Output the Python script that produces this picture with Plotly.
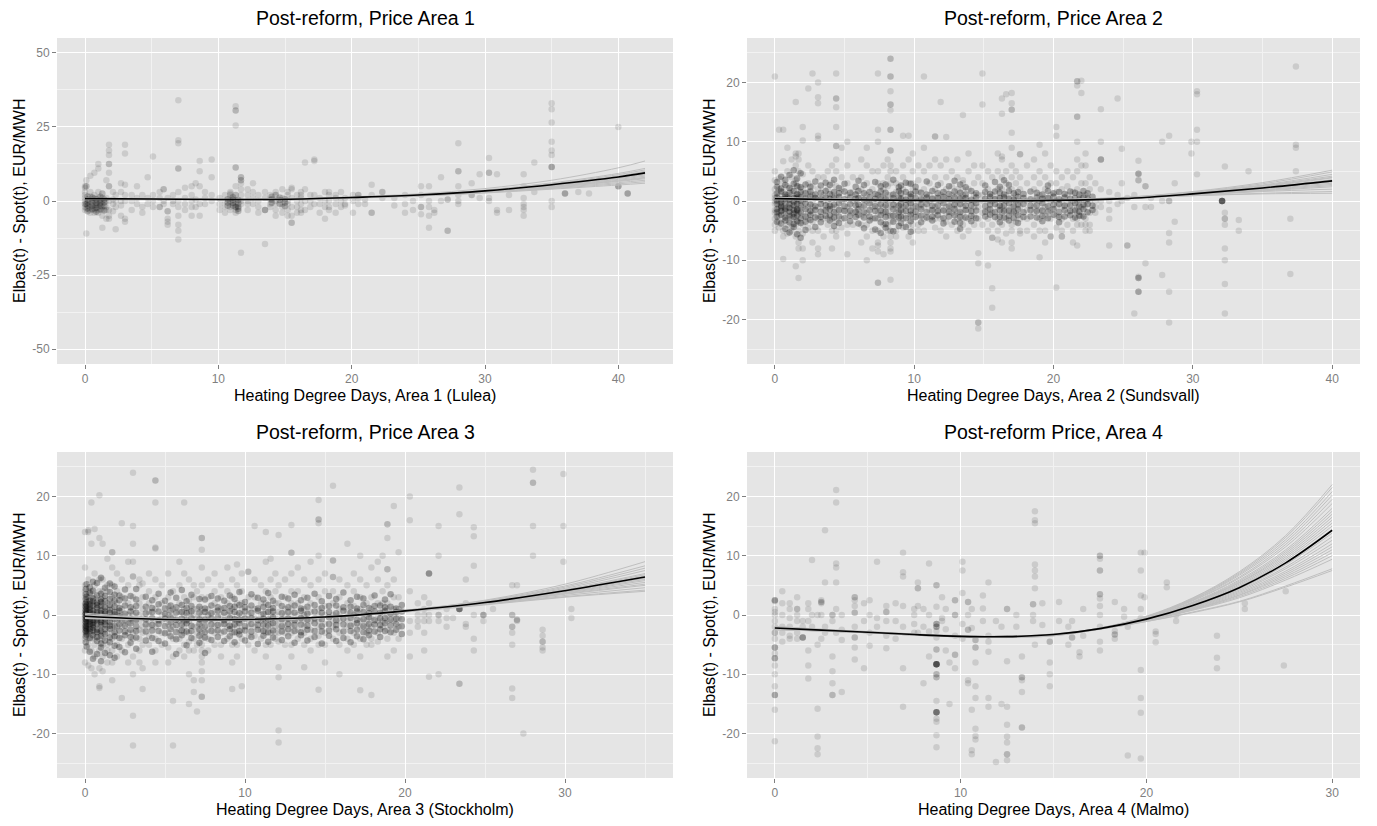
import plotly.graph_objects as go

FONT = "Liberation Sans, Arial, Helvetica, sans-serif"

# ---------------- text ----------------
panel_titles = ["Post-reform, Price Area 1", "Post-reform, Price Area 2",
                "Post-reform, Price Area 3", "Post-reform Price, Area 4"]
x_titles = ["Heating Degree Days, Area 1 (Lulea)", "Heating Degree Days, Area 2 (Sundsvall)",
            "Heating Degree Days, Area 3 (Stockholm)", "Heating Degree Days, Area 4 (Malmo)"]
y_title = "Elbas(t) - Spot(t), EUR/MWH"

x_tick_vals = [[0, 10, 20, 30, 40], [0, 10, 20, 30, 40], [0, 10, 20, 30], [0, 10, 20, 30]]
y_tick_vals = [[-50, -25, 0, 25, 50], [-20, -10, 0, 10, 20], [-20, -10, 0, 10, 20], [-20, -10, 0, 10, 20]]

# ---------------- observations: HDD of the day -> hourly Elbas-Spot differences ----------------
p1_days = {
    0.0: [5, 4.5, 2, 1, 0, -1, -1, -2, -3, 3], 0.1: [5, 5, -1, -1, -11, 7, -2.5],
    0.4: [3, 1.5, 0, -1, -2, -3, -4, 8.5], 0.7: [2, 1, 0, -1.5, -2.5, -4, 9.5, -3],
    1.0: [3, 1, 0, -1, -2, -3, -4, 12.5, 11], 1.3: [2.5, 2.5, 1, 0, -1, -2, -3, -5, -9],
    1.6: [1, 0, -2, -3, -6, 7], 1.8: [19, 17, 15.5, 12.5, 12.5, 9.5, 5, 5, 0, -3, -6, -5],
    2.1: [3, 0.5, -1, -3.5], 2.3: [2, 0, -2, -9.5], 2.7: [6, 3, 0, -1.5, -5],
    3.0: [19, 16, 5.5, 2, 0, -6, -7], 3.5: [2, 0, -3], 3.9: [1, -1, 5], 4.3: [2, -2, -4],
    4.7: [8, 1, -1], 5.1: [15, 2, 0, -2], 5.6: [3, -2, -2, 1], 5.9: [4, 4, 0, -1],
    6.2: [1, -3.5, -3.5, -6, -7, -8], 6.6: [2, 0, -1],
    7.0: [34, 20.5, 19.5, 11, 11, 3, 0, -2, -5, -8, -10, -13], 7.5: [1, -1, -3, 4.5],
    8.0: [5, 2, 0, -2, -5], 8.3: [0.5, -2, 6], 8.6: [13.5, 10, 5, -1, -5], 9.0: [3, 1, -1],
    9.5: [14, 8, 2, 0], 10.1: [1, -1, -3], 10.5: [2, 0, -2, -4], 10.9: [3, 2.5, 2, 1, 0, -1, -2, -3],
    11.3: [32, 30.5, 30.5, 25.5, 11.3, 11.3, 5, 2, 2, 0, -1, -2, -2, -2, -3, -4],
    11.7: [8, 8, 7, 7, 6, 4, 2, 0, -1, -17.5], 12.2: [4, 2, 0, -1, -3], 12.6: [6, 3, 1, -1],
    13.0: [2, 0, -2, -4], 13.5: [3, 1, -3, -3, -3, -14.5], 13.9: [2, 0.5, -1, -2],
    14.3: [3, 2, 2, 0, -1, -3, -5], 14.8: [4, 1, -1, -2, -4], 15.2: [3, 2, 0, -1, -3, -5],
    15.5: [4.5, 4, 1, -2, -5, -7.3, -7.3], 15.9: [2, 0, -2, -4], 16.2: [3, 2, 1, -1, -3, -4],
    16.5: [13, 4, 0, -3], 16.9: [2, 0, -2], 17.2: [14, 13.5, 2, -1], 17.6: [1, -1, -4],
    18.0: [3, 0, -2, -6], 18.3: [3, 2, 0, -2, -3], 18.8: [2, 1, -1, -4], 19.2: [3, 0, -2],
    19.5: [1, -1, -1.5], 20.1: [2, 0, -4], 20.5: [2, 2, 1, -1], 21.0: [0.5, -1],
    21.5: [5.5, 2, -4, -4], 22.3: [3, 3, 1], 23.2: [-1.5, 1], 24.0: [2, -1, -4], 24.6: [0, -3],
    25.2: [5, 2, -2, -2, -4.5], 25.8: [5, 0, -2, -5, -9], 26.2: [-3, -4], 26.7: [8, 0],
    27.2: [0.5, 0.5, -10, -10], 28.0: [19.5, 10, 10, 5, 2, -1, 0], 29.0: [2, 2, 6],
    29.6: [9, 1], 30.3: [14.5, 9.5, 9.5, 0, 1], 30.9: [9, -4, -3], 31.8: [2, -3],
    32.9: [9, 5, 1, -1, -2, -3, -5], 33.7: [13, 3],
    35.0: [33, 31, 26.5, 20, 17, 15.5, 11.5, 11.5, 11.5, 5, 0, -2],
    36.0: [2.5, 2.5, 2.5], 37.0: [3], 37.8: [2.5], 40.0: [25, 5, 5, 5], 40.7: [2.5, 2.5, 2.5],
}
# dense core of each cloud: each entry stands for several coinciding hours (weights below)
p1_days_core = {
    0.2: [0.5, -0.5, -1.5, -2.5, 1.5, -3.5], 0.55: [0.4, -0.7, -1.8, -2.8, 1.2],
    0.85: [0.6, -0.6, -1.3, -2.4, -3.6], 1.15: [0.3, -0.8, -1.7, -2.9, 1.4],
    1.45: [0.5, -0.4, -1.6, -3.2], 10.7: [0.6, -0.5, -1.6], 11.1: [0.4, -0.7, -1.5, 1.3],
    11.5: [0.3, -0.8, -1.9, -2.6, -3.4], 14.0: [0.5, -0.6, 1.4], 14.6: [0.3, -0.9, 1.2],
    15.0: [0.6, -0.5, -1.8],
}

p2_days = {
    0.0: [2, 1, 0.5, 0, -0.5, -1.5, -2, -3, -4, 5, 3.5, -5, 21],
    0.3: [3.8, 2, 1, 0, -1, -2, -2.5, -3.5, 12, -4.5],
    0.6: [6.7, 3, 1.5, 0, -1, -2, -3, -5, -6, -9.8, 12],
    0.9: [5, 2.5, 1, 0.5, -1, -2.5, -4, -5.5, 9],
    1.2: [4, 2, 1, -0.5, -1.5, -2.5, -3, -4.5, -5, 7],
    1.5: [8, 7.5, 6, 3, 1, 0.5, 0, -1, -2, -3, -4, -6, -11, 16.7, 3.5],
    1.7: [8, 7, 5, 2.5, 1, 0, -1.5, -2, -3.5, -5, -7, -8, -13],
    2.0: [10.2, 12.5, 4.5, 2, 1, 0, -1, -2.5, -4, -5.5, -8, -10],
    2.4: [6, 3, 1.5, 0.5, -1, -2, -3, -4.5, 19],
    2.7: [5, 2.5, 1, 0, -1, -2, -3.5, -5, -7, 21.5],
    3.1: [20, 17.5, 16.5, 11, 10.5, 4, 2, 0.5, -1, -3, -2.5, -5, -8, -9],
    3.5: [4, 1, 0, -1.5, -3, -6], 3.8: [5, 2, 0, -1, -3, -4], 4.1: [6, 3, 1, -1, -3, -5, -8],
    4.4: [21.5, 17.3, 17.3, 15.8, 12.5, 9.3, 9.3, 7, 5, 2.5, 0.5, -1, -2, -3.5, -5, -6],
    4.8: [9, 4, 2, 0, -1.5, -3, -4.5], 5.2: [10, 6, 3, 1, -1, -2, -4, -5.5, -9],
    5.6: [4, 1.5, 0, -2, -4], 6.2: [7, 4, 2, 0.5, -1, -2.5, -4, -7],
    6.6: [9, 6, 3, 1, 0, -2, -4, -6, -10], 7.0: [5, 2, 0, -1, -3, -5, -8],
    7.4: [12, 10, 5, 3, 1, 1, 0, -1, -2, -3, -5, -7, -7.5, -8.5, 21.5, -13.8, -13.8],
    7.8: [6, 3, 2, 0.5, -1, -2, -4, -6, -9],
    8.1: [7, 4, 2.5, 1, 0, -1, -2, -2.5, -4, -5],
    8.3: [24, 24, 21, 21, 18.5, 16.3, 16.3, 15.3, 12, 12, 8.5, 8.5, 6, 5, 3, 1, 0, -1, -2.5, -2.5,
          -3.5, -5, -5, -6, -7, -8, -8.5, -13.3],
    8.7: [5, 3, 1.5, 0, -1, -2, -3, -5, -6], 9.2: [11, 6, 4, 2, 0.5, -1, -2, -3, -4.5],
    9.6: [11, 7, 3, 1, 0, -1, -2.5, -4, -6], 9.9: [8, 5, 3, 2, 1, 0, -1, -2, -3, -4, -5, -7],
    10.3: [6, 3.5, 1.5, 0, -1, -2.5, -4, -5], 10.7: [21, 9, 5, 2, 0.5, -1, -3, -5],
    11.1: [6, 3, 1, 0, -1.5, -3], 11.5: [10.9, 10.9, 7, 4, 2, 0.5, -1, -2, -3, -4.5],
    11.9: [16.7, 6, 3, 1, 0, -1.5, -3, -5], 12.3: [10.8, 7, 4, 2, 0.5, -1, -2, -3.5, -6],
    12.7: [5, 2.5, 1, 0, -1, -2, -4], 13.1: [7, 4, 2, 1, 0, -1, -2, -3, -5],
    13.5: [14.5, 3.5, 3, 2, 1, 0.5, 0, -1, -2, -3, -4, -6], 13.9: [8, 5, 2, 0, -1.5, -3, -5],
    14.3: [6, 3, 1, 0, -1, -2.5, -4], 14.6: [-20.5, -20.5, -21.5, -8.8, -10.5, 4, 1, -1, -3],
    14.9: [21.5, 16.3, 6, 3, 1, 0, -2, -4], 15.3: [5, 2, 0, -1.5, -3, -5, -10.9],
    15.6: [4, 1, 0, -2, -4, -6.2, -6.2, -14.7, -18], 16.0: [8, 5, 2, 0.5, -1, -3, -5, -6.5],
    16.3: [17.3, 14.7, 7.5, 7, 4, 2, 0, -1, -2, -4, -7], 16.6: [18, 5, 3, 1, 0, -1.5, -3, -5.5],
    17.0: [18.2, 16.5, 15.4, 15.4, 11.5, 9, 6, 4, 2, 0.5, -1, -2, -4, -5, -7, -8],
    17.3: [5, 3, 1, 0, -2, -3.5], 17.6: [7.9, 7.9, 4, 2, 0, -1, -3, -5, -5.5],
    18.1: [6, 3, 0, -1.5, -3, -5], 18.6: [7, 4, 2, 0, -1, -2, -4, -6],
    19.0: [9.5, 5, 3, 1, 0, -1.5, -3, -5, -9.5], 19.4: [8, 4, 2, 0.5, -1, -2.5, -5, -7],
    19.8: [6, 3, 1, 0, -1.5, -3, -6, -6], 20.2: [12.5, 11, 5, 3, 1.5, 0, -1, -2.5, -4.5, -14.6],
    20.6: [4, 2, 0, -1, -3, -5, -6, -6], 21.0: [5, 2.5, 1, -0.5, -2, -4],
    21.4: [4, 1.5, 0, -1.5, -3, -5, -7],
    21.7: [20.2, 20.2, 19.5, 14.2, 14.2, 10, 7, 5, 2, 0, -1, -2, -3, -4, -7.5],
    22.0: [20.3, 18.2, 6, 3, 1, -1, -2.5, -4], 22.3: [8, 6, 3, 1, 0, -1, -3, -4, -5],
    22.6: [4, 2, 0, -2, -4, -5], 23.0: [3, 0, -1, -2], 23.4: [7, 7, 7, 15.5, 10, 2, 0, -1],
    24.0: [1.5, 0, -1.5, -3, -7.5], 24.6: [17.3, 1, -0.5], 24.9: [8.8, 3, 0],
    25.3: [-7.5, -7.5, 0.5], 25.8: [1, -1, -19],
    26.1: [6.8, 4.6, 4.6, 4.6, 3.5, 3.5, -12.8, -13, -13, -13, -15.3, -15.3, -15.3],
    26.6: [2.5, 2.5, -1, -10.5], 27.0: [-1, 0.5], 27.8: [10, -12.5, 0],
    28.3: [11, 0, 0, -5.4, -7, -15.3, -20.5], 28.7: [-3.5, 3], 29.9: [8, 10],
    30.3: [18.5, 18, 12, 10, 4.5], 32.1: [0, 0, 0, 0, 0, 0, 0, 0],
    32.3: [5.8, -2, -3, -3, -4, -8, -10, -14, -19], 33.3: [-3.2, -5], 34.0: [5],
    37.0: [-12.3, -3], 37.4: [22.7, 9.5, 9, 5],
}
p2_days_core = {
    0.15: [0.6, -0.5, -1.4, -2.6, 1.3, 2.4, -3.5, 0.1, -1.9, 3.2],
    0.45: [0.3, -0.8, -1.7, -2.3, 1.6, 2.1, -3.8, -0.2, -1.1, 4.1],
    0.75: [0.7, -0.4, -1.3, -2.8, 1.1, 2.7, -3.3, 0.4, -1.6, 3.6, -4.7],
    1.05: [0.4, -0.6, -1.8, -2.5, 1.4, 2.2, -3.6, 0.2, -1.2, 4.4, -5.3],
    1.35: [0.5, -0.7, -1.5, -2.7, 1.7, 2.9, -3.9, -0.1, -2.1, 5.2, -4.4],
    1.6: [0.3, -0.5, -1.6, -2.4, 1.2, 2.5, -3.4, 0.6, -1.4, 3.8, -5.6],
    1.85: [0.6, -0.8, -1.9, -2.9, 1.5, 2.3, -3.7, 0.1, 4.7, -6.2],
    2.2: [0.4, -0.4, -1.4, -2.6, 1.3, -3.5, 2.8, -4.9], 2.55: [0.7, -0.6, -1.7, -2.3, 1.6, -3.2, 2.4],
    2.9: [0.5, -0.9, -1.5, 1.1, -2.8, 3.3, -4.4], 3.3: [0.3, -0.5, -1.8, -2.7, 1.4, -3.6, 2.6],
    3.65: [0.6, -0.7, -1.6, 1.7, -2.5, 3.1], 3.95: [0.4, -0.8, -1.4, -2.4, 1.2, -3.3, 2.7],
    4.25: [0.5, -0.6, -1.9, 1.5, -2.8, 3.6, -4.2], 4.6: [0.7, -0.4, -1.5, -2.6, 1.3, -3.7, 2.2],
    5.0: [0.3, -0.9, -1.7, 1.6, -2.9, 2.9], 5.4: [0.6, -0.5, -1.6, -2.5, 1.4, -3.4],
    5.8: [0.4, -0.7, -1.8, 1.1, -2.7, 2.4], 6.0: [0.5, -0.6, -1.4, -2.3, 1.7, -3.8, 3.4],
    6.4: [0.2, -0.8, -1.9, 1.3, -2.8, 2.7, -4.6], 6.8: [0.6, -0.4, -1.5, -2.6, 1.5, -3.3],
    7.2: [0.4, -0.9, -1.7, 1.2, -2.9, 3.2, -4.8], 7.6: [0.7, -0.5, -1.6, -2.4, 1.6, -3.6, 2.5, -5.4],
    7.95: [0.3, -0.7, -1.8, -2.7, 1.4, -3.9, 2.8, -4.5],
    8.5: [0.5, -0.6, -1.4, -2.5, 1.1, -3.5, 3.6, -5.1], 8.9: [0.6, -0.8, -1.9, 1.7, -2.8, 2.3, -4.2],
    9.05: [0.4, -0.5, -1.5, -2.6, 1.3, -3.7, 2.6], 9.4: [0.2, -0.7, -1.7, 1.5, -2.9, 3.1, -4.4],
    9.75: [0.7, -0.4, -1.6, -2.3, 1.2, -3.4, 2.9, -5.2], 10.1: [0.5, -0.9, -1.8, 1.6, -2.7, 2.4],
    10.5: [0.3, -0.6, -1.4, -2.5, 1.4, -3.6], 10.9: [0.6, -0.5, -1.9, 1.1, -2.8, 3.3],
    11.3: [0.4, -0.8, -1.5, -2.6, 1.7, -3.3], 11.7: [0.5, -0.7, -1.7, 1.3, -2.4, 2.7],
    12.1: [0.7, -0.4, -1.6, -2.9, 1.5, -3.8], 12.5: [0.3, -0.9, -1.8, 1.2, -2.6, 2.5],
    12.9: [0.6, -0.6, -1.4, -2.4, 1.6, -3.5, 3.4],
    13.3: [0.4, -0.5, -1.9, -2.7, 1.4, -3.7, 2.8, -4.7], 13.7: [0.5, -0.8, -1.5, 1.1, -2.8, 2.3],
    14.1: [0.2, -0.7, -1.7, -2.5, 1.7, -3.4], 14.45: [0.6, -0.4, -1.6, 1.3, -2.9],
    15.1: [0.4, -0.9, -1.8, 1.5, -2.6, 2.6], 15.45: [0.7, -0.6, -1.4, -2.3, 1.2],
    15.8: [0.3, -0.5, -1.9, 1.6, -2.7, 3.2], 16.15: [0.5, -0.8, -1.5, -2.6, 1.4, -3.6, 2.4],
    16.45: [0.6, -0.7, -1.7, 1.1, -2.8, 3.5], 16.8: [0.4, -0.4, -1.6, -2.5, 1.7, -3.3, 2.7],
    17.15: [0.2, -0.9, -1.8, 1.3, -2.9], 17.45: [0.7, -0.6, -1.4, -2.4, 1.5, -3.7],
    17.85: [0.5, -0.5, -1.9, 1.2, -2.7], 18.35: [0.3, -0.8, -1.5, -2.6, 1.6],
    18.8: [0.6, -0.7, -1.7, 1.4, -2.8], 19.2: [0.4, -0.4, -1.6, -2.5, 1.1, -3.4],
    19.6: [0.5, -0.9, -1.8, 1.7, -2.9, 2.6], 20.0: [0.7, -0.6, -1.4, -2.3, 1.3],
    20.4: [0.3, -0.5, -1.9, 1.5, -2.7, -3.6], 20.8: [0.6, -0.8, -1.5, -2.6, 1.2],
    21.2: [0.4, -0.7, -1.7, 1.6, -2.4], 21.55: [0.5, -0.4, -1.6, -2.8, 1.4],
    21.85: [0.2, -0.9, -1.8, 1.1, -2.5], 22.15: [0.6, -0.6, -1.4, -2.6, 1.7],
    22.45: [0.4, -0.5, -1.9, 1.3], 22.8: [0.7, -0.8, -1.5],
}

p3_days = {
    0.0: [5, 4, 3, 2, 1.5, 1, 0.5, 0, 0, -0.5, -1, -1.5, -2, -2.5, -3, -4, 8, -6, -8, 14],
    0.2: [6, 4, 3, 2, 1, 0, -0.5, -1, -2, -3, -4, -5, 14.3, 14, -8.5],
    0.4: [4, 3, 2, 1, 0, -1, -1.5, -2, -3, -4, -6, 19, 12, -9],
    0.6: [7, 5, 3, 2, 1, 0, -1, -1, -2, -3, -4, -5, -7, -10, 14.5],
    0.9: [20.2, 13, 6, 4, 2.5, 1.5, 0.5, -0.5, -1.5, -2.5, -3, -4, -6, -9, -12.3, -12],
    1.1: [12, 6, 4, 3, 2, 1, 0, -1, -2, -3, -4, -5, -7, -9.5],
    1.4: [9.5, 5, 4, 2, 1, 0, -1, -2, -3, -5, -6, -8],
    1.7: [10.6, 10.6, 8, 5, 3, 2, 1, 0, -1, -2, -3, -4, -6, -8, -11],
    2.0: [7, 4, 2, 0.5, -1, -2, -3.5, -5, -7], 2.3: [15.5, 6, 3, 1, 0, -1, -2, -4, -6, -14],
    2.7: [9, 5, 2, 0, -1.5, -3, -5, -8],
    3.0: [24, 15, 12, 9, 6.5, 6.5, 3, 1, 0, -1, -3, -4, -7, -10, -17, -22],
    3.4: [6, 5, 2, 0, -1, -2.5, -4, -6, -8], 3.6: [5.3, 3, 1, -0.5, -2, -3, -5, -9, -12.5],
    4.0: [7, 4, 2, 0.5, -1, -2, -3.5, -5],
    4.4: [22.7, 22.7, 19, 11.4, 11.2, 6, 3, 1, -1, -2, -4, -6, -8],
    4.8: [5, 2, 0, -1, -3, -5], 5.2: [7, 3, 1.5, 0, -1.5, -3, -5.5, -8],
    5.5: [4, 1, -0.5, -2, -4, -7, -14.5, -22], 5.9: [9, 5, 2, 0.5, -1, -2.5, -4, -6],
    6.2: [19, 7, 3, 1, 0, -1, -2, -3, -5, -7], 6.5: [6, 2.5, 0.5, -1, -3, -4.5, -6, -10, -15],
    6.8: [5, 3, 1, 0, -2, -4, -6, -11, -13], 7.0: [4, 1, -0.5, -2, -3, -5, -16.3],
    7.3: [13, 13, 11, 8, 5, 3, 1, 0, -1, -2, -3, -4, -5, -6, -7, -8, -9.5, -11, -13.8, -13.8],
    7.7: [6, 3, 1, 0, 0, -1, -2.5, -4, -6], 8.1: [7, 4, 2, 0.5, -1, -2, -3, -5],
    8.5: [5, 3, 1, 0, -1.5, -3, -5, -7], 8.9: [8, 4, 2, 0, -1, -2, -4],
    9.2: [6, 3, 1, -0.5, -2, -3, -5, -12.5, -8], 9.5: [8.5, 5, 2, 0, -1, -2, -3, -5, -7],
    9.8: [7, 4, 2, 1, 0, -1, -2.5, -4, -12], 10.2: [7.3, 7.3, 3, 1, 0, -1, -2, -3.5, -5],
    10.6: [15, 6, 3, 1, -0.5, -2, -3.5, -6], 11.0: [5, 2, 0, -1, -2.5, -4],
    11.3: [14, 9, 4, 2, 0.5, -1, -2, -3, -5, -7], 11.6: [9.5, 6, 3, 1, 0, -1.5, -3, -5],
    11.9: [7, 4, 2, 0, -1, -2, -3, -4],
    12.1: [13.5, 5, 2, 0.5, -1, -2, -3, -4.5, -8.8, -10.5, -19.5, -21.5],
    12.5: [6, 3, 1, 0, -1, -2, -3, -5],
    12.9: [15.2, 10.5, 10.5, 7, 4, 2, 1, 0, -1, -2, -3, -5, -7],
    13.3: [8, 4, 2, 0, -1, -2.5, -4], 13.7: [6, 3, 1, 0, 0, -1, -2, -3, -5, -8.8],
    14.1: [9, 5, 2, 0.5, -1, -2.5, -4, -6],
    14.6: [19.4, 16.1, 16.1, 15.5, 10, 6, 3, 1, 0, -1, -2, -3.5, -5, -12.6],
    15.0: [7, 4, 1.5, 0, -1.5, -3, -5, -8],
    15.5: [21.8, 9.2, 9.2, 6.4, 6.4, 4, 2, 0, -1, -2, -4],
    15.9: [6, 3, 1, 0, -1, -3, -5, -10], 16.4: [12, 5, 2, 0.5, -1, -2, -4, -6],
    16.8: [7, 4, 1.5, 0, -1.5, -3, -5], 17.2: [10, 6, 3, 1, -1, -2, -4, -7, -12.7],
    17.6: [5, 2, 0, -1, -2, -3, -5], 17.9: [8, 3, 1, -0.5, -2, -4, -5, -13.5],
    18.3: [9, 6, 2, 0, -1, -3, -4.5], 18.6: [10, 4, 2, 0.5, -1, -2],
    18.9: [15.3, 15.3, 13, 7.7, 7.7, 5, 2, 1, 0, -1, -2.5, -4, -7],
    19.3: [18.4, 6, 3, 1, 0, -1, -3, -6], 19.6: [10.6, 3, 1, -0.5, -2, -4],
    20.3: [20, 16, 4, -1, -3, -7], 20.8: [2, 0, -1, -2], 21.2: [3, 1, 0, -1, -3, -6],
    21.5: [7, 7, 7, 7, 2, 0, -1, -10.4], 22.1: [15, 10, 0, 0, -1, -10], 22.6: [1, -0.5, -2],
    23.0: [-0.5], 23.4: [21.5, 17, 1, 1, 1, 1, 1, 1, -11.6, -11.6], 23.8: [6, 2, -1.5, -2],
    24.3: [14.8, 13.3, 8.3, -4, -6, 0], 24.9: [0, 0, 0, -1], 25.5: [1],
    26.7: [5, 0, 0, -2, -2, -3, -5, -12.4, -14], 27.0: [5, -0.8, -0.8, -1], 27.4: [-20],
    28.0: [24.5, 22.3, 22.3, 15, 10], 28.6: [-2.5, -3.5, -4.5, -4.5, -5.5, -6],
    29.9: [23.8, 15, 9], 30.4: [1, -0.5],
}
p3_days_core = {
    0.05: [0.3, -0.7, -1.8, -2.7, 1.4, 2.6, 3.5, -3.6, 0.8, -1.2, -0.3, 1.9, -2.2, 4.4, -4.6],
    0.1: [0.6, -0.4, -1.4, -2.4, 1.1, 2.2, 3.1, -3.3, 0.2, -1.9, -0.9, 1.6, -2.9, 5.2, -5.3],
    0.3: [0.4, -0.6, -1.6, -2.8, 1.3, 2.4, 3.7, -3.9, 0.9, -1.1, -0.2, 1.8, -2.3, 4.7, -6.2],
    0.5: [0.7, -0.3, -1.3, -2.1, 1.6, 2.8, 4.1, -3.4, -0.8, -1.7, 0.2, 2.3, -2.6, 5.6, -7.4],
    0.75: [0.5, -0.5, -1.5, -2.5, 1.2, 2.1, 3.3, -3.7, -4.4, 0.1, -0.9, 1.7, -2.9, 5.4, -6.6],
    1.0: [0.3, -0.8, -1.7, -2.7, 1.5, 2.6, 3.6, -3.5, -4.8, 0.8, -1.2, 2.2, -5.5, 6.3, -7.8],
    1.25: [0.6, -0.6, -1.6, -2.4, 1.3, 2.3, 3.2, -3.2, -4.3, 0.2, -1.1, 4.6, -6.4],
    1.55: [0.4, -0.4, -1.2, -2.3, 1.7, 2.7, 3.9, -3.8, -4.6, 0.9, -1.8, 5.3, -6.8],
    1.85: [0.5, -0.7, -1.9, -2.9, 1.4, 2.4, 3.4, -3.6, -5.2, 0.1, 4.8, -7.2],
    2.15: [0.7, -0.5, -1.5, -2.6, 1.2, 2.5, -3.9, -0.2, 3.3, -5.4],
    2.5: [0.2, -0.9, -1.8, -2.8, 1.6, 2.8, -3.4, 4.3, -6.3],
    2.85: [0.6, -0.6, -1.4, -2.5, 1.3, -3.7, 3.2, -4.7],
    3.2: [0.4, -0.8, -1.9, -2.7, 1.5, 2.6, -3.8, 4.4, -5.7],
    3.8: [0.3, -0.7, -1.6, 1.4, -2.8, 3.1, -4.3], 4.2: [0.5, -0.5, -1.7, 1.2, -2.6, 2.5, -3.9, -6.2],
    4.6: [0.6, -0.9, -1.5, 1.8, -2.7, 3.6, -4.4], 5.0: [0.2, -0.6, -1.9, 1.1, -3.1, 2.4, -4.8],
    5.35: [0.7, -0.4, -1.3, -2.4, 1.6, -3.6, 3.8], 5.7: [0.4, -0.8, -1.7, 1.3, -2.9, 2.9, -4.1, -6.6],
    6.05: [0.5, -0.6, -1.6, -2.6, 1.7, -3.4, 4.2], 6.35: [0.3, -0.9, -1.4, 1.2, -2.8, 2.3, -5.1],
    6.65: [0.6, -0.5, -1.8, -2.7, 1.5, -3.9, 3.4], 7.15: [0.4, -0.7, -1.5, -2.5, 1.4, -3.5, 2.7, -4.7],
    7.5: [0.5, -0.8, -1.9, -2.9, 1.1, -3.8, 2.6, -6.4], 7.9: [0.3, -0.6, -1.6, 1.6, -2.7, 3.2, -4.2],
    8.3: [0.7, -0.4, -1.7, -2.6, 1.3, -3.7, 2.8], 8.7: [0.4, -0.9, -1.5, 1.2, -2.8, 2.4, -4.4],
    9.05: [0.6, -0.5, -1.8, -2.4, 1.5, -3.6, 3.3], 9.35: [0.5, -0.7, -1.6, 1.4, -2.9, 2.7, -4.6],
    9.65: [0.3, -0.8, -1.4, -2.7, 1.7, -3.3, 3.9], 10.0: [0.6, -0.6, -1.9, 1.3, -2.6, 2.2, -4.3],
    10.4: [0.4, -0.5, -1.5, -2.8, 1.6, -3.7, 3.5], 10.8: [0.7, -0.9, -1.7, 1.1, -2.5, 2.9, -4.9],
    11.15: [0.2, -0.6, -1.6, -2.7, 1.4, -3.5, 2.6], 11.45: [0.5, -0.8, -1.8, 1.7, -2.9, 3.7, -4.5],
    11.75: [0.6, -0.4, -1.4, -2.6, 1.2, -3.8, 2.4], 12.3: [0.3, -0.7, -1.9, 1.5, -2.8, 3.1, -4.2],
    12.7: [0.5, -0.6, -1.5, -2.4, 1.3, -3.6, 2.8], 13.1: [0.4, -0.9, -1.7, 1.6, -2.7, 3.4, -4.7],
    13.5: [0.7, -0.5, -1.6, -2.9, 1.1, -3.4, 2.5], 13.9: [0.2, -0.8, -1.8, 1.4, -2.5, 2.9, -4.3],
    14.35: [0.6, -0.6, -1.4, -2.7, 1.7, -3.7, 3.6], 14.8: [0.4, -0.7, -1.9, 1.2, -2.8, 2.3, -4.8],
    15.25: [0.5, -0.4, -1.5, -2.6, 1.5, -3.5, 3.2], 15.7: [0.3, -0.9, -1.7, 1.6, -2.4, 2.7, -4.4],
    16.15: [0.7, -0.6, -1.6, -2.8, 1.3, -3.9, 3.8], 16.6: [0.4, -0.5, -1.8, 1.4, -2.7, 2.5, -4.6],
    17.0: [0.6, -0.8, -1.4, -2.5, 1.1, -3.6, 3.1], 17.4: [0.5, -0.7, -1.9, 1.7, -2.9, 2.8, -4.1],
    17.75: [0.3, -0.4, -1.5, -2.6, 1.2, -3.4], 18.1: [0.6, -0.9, -1.6, 1.5, -2.8, 3.3],
    18.45: [0.4, -0.6, -1.7, -2.4, 1.6, -3.7], 18.75: [0.7, -0.5, -1.4, 1.3, -2.7, 2.6],
    19.1: [0.2, -0.8, -1.8, -2.9, 1.4, 3.5], 19.45: [0.5, -0.6, -1.5, 1.1, -2.5],
    19.8: [0.6, -0.7, -1.9, 1.7, -3.2],
}

p4_days = {
    0.0: [2.5, 2.5, 2.5, 2.3, 1, 0, -1, -2, -3, -4, -5.5, -5.5, -5.5, -6.5, -7.3, -7.3, -7.3,
          -8.5, -10, -12, -13.5, -13.5, -13.5, -16, -21.3, 0.5, -3],
    0.4: [4, 2, 0, -2, -3, -4.5], 0.8: [2, 1, -0.5, -2, -3.5, -4], 1.2: [1, 1, 0, -1, -3, -4, 3],
    1.5: [-1, -2, -3.8, -3.8, -3.8, -3.8], 1.8: [1, -1, -6, -8.5, -10.7, 2], 2.0: [9.3, 0, -2],
    2.3: [-15.8, -20.5, -22.5, -23.5, -5, 0], 2.5: [2.5, 2.2, 2.2, 2, 0, -4],
    2.7: [5.5, 14.3, -2, -3], 3.1: [0, 0, -1, -7, -9.5, -11.5, -13.5, -13.5],
    3.3: [21.1, 19, 8.7, 8, 5.5, 1, -3], 3.6: [-13, -4.2, -2.5, 0],
    4.3: [3, 3, 2.5, 1.5, 0.4, 0.4, -3.8, -3.8, -5.5, -7.5, -2], 4.8: [-9, 2, -1],
    5.1: [2.5, -5.2, 0, -3], 5.5: [9, -0.5, -2], 6.0: [0.5, 0.5, -1, -3.5, -5.6, 1.5],
    6.5: [-4, -1, 2], 6.9: [1.5, 10.5, 7.2, 6.5, -9, -15.5, -2], 7.5: [0, -3, 1, -1.5],
    7.7: [5.5, 4.5, 4.5, 1.5, -3], 8.0: [-11.5, -2, 1], 8.3: [8.7, -7, -2.8, 0],
    8.7: [5, 5, 1.4, -1.5, -1.5, -1.5, -2, -2, -2, -2.7, -3.8, -5.8, -5.8,
          -8.3, -8.3, -8.3, -8.3, -8.3, -8.3, -8.3, -8.3, -8.3, -10, -10, -10.5, -10.5,
          -16.4, -16.4, -16.4, -16.4, -16.4, -16.4, -17.5, -18, -20.3, -22.3, -14.5],
    9.0: [-1, 3, -0.5], 9.2: [-6, -2.4, 1], 9.4: [-8, -15],
    9.7: [2.5, 2.5, 0, 0, -3.5, -6.7, -6.7, -9], 10.1: [9, 3.7, 7.5, -1.5, -4],
    10.4: [-11, -11.5, 2.2, 2.2, 0, -2.5, -2.5], 10.6: [-16, -22.8, -23.5, -2.2, 1],
    10.8: [-4.2, -4.2, -5.5, -5.5, -8, -12, -14, -19.2, -20.4, -21], 11.2: [3.3, 1.1, -1],
    11.5: [5.5, -3.5, -4.5, -6.2, -14, -15.5], 11.9: [-24.8, -1], 12.2: [-2, -15],
    12.5: [1, 1, -7.8, -15.5, -18.5, -20.5, -21.5, -23.5, -23.5, -24.5], 13.0: [-2, 0],
    13.3: [-7, -10.5, -10.5, -11, -13, -19, -19], 13.9: [1.8, 1.8, 0, -1],
    14.0: [17.5, 16, 15.5, 8.5, 7.5, 6.5, 4.5, -5], 14.4: [-1.7, 2],
    14.8: [-4.5, -4.5, -8, -10, -12], 15.3: [2.2, -1], 15.8: [-5, -2], 16.0: [-3.8, -3.8, -1],
    16.4: [-6.3, -7], 16.6: [-3.5, 1],
    17.5: [10, 10, 9.5, 7.5, 7.5, 3.5, 3.5, 2.8, 1.5, 0, -2, -4.5, -6],
    18.3: [2.2, -3.3, -3.3, -2.7, -4], 18.8: [-0.3, 1], 19.0: [-2, -23.7],
    19.7: [10.5, 7.5, 3.3, 1, -0.5, -9.3, -14, -16.5, -24.2], 19.9: [3, 10.5],
    20.5: [-2.8, -3.2, -4.6], 21.1: [5.5, 4.7], 21.6: [0, -1], 23.8: [-3.5, -7.2, -9],
    25.3: [2, 1], 27.4: [-8.5], 27.5: [4],
}
p4_days_core = {}

# hours represented by each entry of the core tables
core_weights = [2, 3, 3, 1]

# ---------------- fitted curve (black) and bootstrap refits (grey) ----------------
p1_fit_x = [0, 5, 10, 15, 20, 25, 30, 35, 40, 42]
p1_fit_y = [0.8, 0.7, 0.5, 0.6, 1.2, 2.0, 3.4, 5.5, 8.1, 9.5]
p1_boot_y = [
    [1.0, 0.8, 0.6, 0.7, 1.4, 2.4, 4.2, 7.0, 11.2, 13.5],
    [0.7, 0.7, 0.5, 0.6, 1.2, 2.1, 3.7, 6.1, 9.3, 11.0],
    [0.9, 0.8, 0.5, 0.6, 1.2, 2.0, 3.5, 5.8, 8.9, 10.5],
    [0.8, 0.7, 0.5, 0.6, 1.2, 2.0, 3.5, 5.7, 8.5, 10.0],
    [0.6, 0.6, 0.5, 0.6, 1.2, 2.0, 3.4, 5.4, 8.0, 9.3],
    [0.7, 0.7, 0.5, 0.6, 1.1, 1.9, 3.3, 5.3, 7.8, 9.0],
    [0.8, 0.7, 0.5, 0.6, 1.1, 1.9, 3.2, 5.2, 7.6, 8.8],
    [0.8, 0.7, 0.5, 0.6, 1.1, 1.9, 3.2, 5.1, 7.3, 8.4],
    [0.9, 0.7, 0.5, 0.6, 1.1, 1.9, 3.1, 4.9, 7.0, 8.0],
    [0.8, 0.7, 0.5, 0.6, 1.1, 1.8, 3.1, 4.8, 6.8, 7.8],
    [0.7, 0.7, 0.5, 0.6, 1.1, 1.8, 3.0, 4.6, 6.6, 7.5],
    [0.8, 0.7, 0.5, 0.6, 1.1, 1.8, 2.9, 4.4, 6.2, 7.0],
    [0.8, 0.7, 0.5, 0.6, 1.0, 1.7, 2.8, 4.2, 5.8, 6.5],
    [0.9, 0.7, 0.5, 0.6, 1.0, 1.7, 2.7, 4.0, 5.4, 6.0],
]

p2_fit_x = [0, 5, 10, 15, 20, 25, 30, 35, 40]
p2_fit_y = [0.4, 0.2, 0.1, 0.05, 0.1, 0.4, 1.2, 2.2, 3.4]
p2_boot_y = [
    [0.6, 0.3, 0.1, 0.0, 0.2, 0.6, 1.6, 3.1, 5.2],
    [0.5, 0.3, 0.1, 0.0, 0.2, 0.6, 1.5, 2.9, 4.9],
    [0.5, 0.2, 0.1, 0.0, 0.1, 0.5, 1.4, 2.7, 4.5],
    [0.4, 0.2, 0.1, 0.0, 0.1, 0.5, 1.4, 2.6, 4.2],
    [0.4, 0.2, 0.1, 0.05, 0.15, 0.45, 1.3, 2.5, 4.0],
    [0.3, 0.2, 0.1, 0.1, 0.1, 0.5, 1.3, 2.4, 3.9],
    [0.4, 0.2, 0.1, 0.1, 0.1, 0.4, 1.2, 2.3, 3.6],
    [0.5, 0.2, 0.1, 0.1, 0.1, 0.4, 1.1, 2.1, 3.2],
    [0.4, 0.2, 0.1, 0.05, 0.1, 0.4, 1.15, 2.0, 3.0],
    [0.3, 0.2, 0.1, 0.1, 0.1, 0.4, 1.1, 1.9, 2.8],
    [0.3, 0.2, 0.1, 0.05, 0.15, 0.45, 1.05, 1.8, 2.6],
    [0.4, 0.2, 0.1, 0.1, 0.2, 0.4, 1.0, 1.7, 2.4],
    [0.2, 0.1, 0.1, 0.1, 0.2, 0.5, 1.0, 1.6, 2.0],
    [0.3, 0.2, 0.1, 0.1, 0.2, 0.5, 0.9, 1.3, 1.6],
    [0.6, 0.3, 0.1, 0.1, 0.2, 0.5, 0.9, 1.2, 1.3],
]

p3_fit_x = [0, 5, 10, 15, 20, 25, 30, 35]
p3_fit_y = [-0.2, -0.75, -0.75, -0.35, 0.7, 2.1, 4.1, 6.4]
p3_boot_y = [
    [0.3, -0.6, -0.7, -0.3, 0.8, 2.5, 5.2, 9.0],
    [0.1, -0.7, -0.7, -0.3, 0.8, 2.4, 4.9, 8.3],
    [0.0, -0.7, -0.7, -0.3, 0.8, 2.3, 4.7, 7.9],
    [-0.1, -0.7, -0.7, -0.3, 0.7, 2.3, 4.5, 7.5],
    [-0.3, -0.8, -0.8, -0.4, 0.7, 2.2, 4.3, 7.0],
    [-0.2, -0.75, -0.75, -0.35, 0.7, 2.15, 4.2, 6.8],
    [-0.4, -0.8, -0.8, -0.4, 0.7, 2.1, 4.1, 6.6],
    [-0.3, -0.8, -0.8, -0.4, 0.65, 2.05, 4.0, 6.2],
    [-0.2, -0.8, -0.8, -0.4, 0.6, 2.0, 3.9, 6.0],
    [-0.1, -0.7, -0.7, -0.3, 0.7, 2.0, 3.8, 5.8],
    [-0.5, -0.8, -0.8, -0.4, 0.6, 1.9, 3.7, 5.5],
    [-0.2, -0.8, -0.8, -0.4, 0.6, 1.95, 3.6, 5.2],
    [-0.3, -0.8, -0.8, -0.4, 0.6, 1.9, 3.5, 5.0],
    [-0.6, -0.8, -0.8, -0.4, 0.6, 1.8, 3.3, 4.6],
    [-0.4, -0.8, -0.8, -0.4, 0.6, 1.8, 3.1, 4.2],
    [-0.6, -0.8, -0.8, -0.4, 0.5, 1.7, 3.0, 4.0],
]

p4_fit_x = [0, 2.5, 5, 7.5, 10, 12.5, 15, 17.5, 20, 22.5, 25, 27.5, 30]
p4_fit_y = [-2.2, -2.55, -2.9, -3.3, -3.6, -3.65, -3.3, -2.3, -0.7, 1.6, 4.6, 8.8, 14.3]
p4_boot_y = [
    [-2.0, -2.4, -2.8, -3.2, -3.5, -3.6, -3.2, -2.2, -0.2, 2.9, 7.3, 13.4, 22.0],
    [-2.4, -2.7, -3.0, -3.4, -3.7, -3.7, -3.3, -2.2, -0.3, 2.8, 7.1, 13.1, 21.5],
    [-2.1, -2.5, -2.9, -3.3, -3.6, -3.6, -3.3, -2.2, -0.3, 2.7, 6.9, 12.7, 20.8],
    [-2.3, -2.6, -3.0, -3.4, -3.7, -3.7, -3.3, -2.25, -0.35, 2.6, 6.7, 12.3, 20.2],
    [-1.9, -2.4, -2.8, -3.2, -3.5, -3.6, -3.2, -2.25, -0.4, 2.5, 6.4, 11.9, 19.5],
    [-2.5, -2.7, -3.0, -3.4, -3.7, -3.7, -3.3, -2.25, -0.4, 2.4, 6.2, 11.5, 18.8],
    [-2.2, -2.5, -2.9, -3.3, -3.6, -3.6, -3.3, -2.25, -0.5, 2.2, 5.9, 11.0, 18.0],
    [-2.0, -2.5, -2.9, -3.3, -3.6, -3.6, -3.3, -2.3, -0.5, 2.1, 5.7, 10.7, 17.5],
    [-2.4, -2.6, -3.0, -3.4, -3.7, -3.7, -3.3, -2.3, -0.55, 2.1, 5.5, 10.4, 17.0],
    [-2.3, -2.6, -2.9, -3.3, -3.6, -3.7, -3.3, -2.3, -0.6, 2.0, 5.4, 10.1, 16.5],
    [-2.1, -2.5, -2.9, -3.3, -3.6, -3.6, -3.3, -2.3, -0.6, 1.9, 5.2, 9.8, 16.0],
    [-2.2, -2.6, -2.9, -3.3, -3.6, -3.7, -3.3, -2.3, -0.6, 1.8, 5.0, 9.5, 15.5],
    [-2.0, -2.5, -2.9, -3.3, -3.6, -3.6, -3.3, -2.3, -0.65, 1.7, 4.8, 9.2, 15.0],
    [-2.3, -2.6, -2.9, -3.3, -3.6, -3.7, -3.3, -2.3, -0.7, 1.5, 4.4, 8.5, 13.8],
    [-2.5, -2.7, -3.0, -3.3, -3.6, -3.7, -3.3, -2.3, -0.75, 1.4, 4.2, 8.1, 13.2],
    [-2.2, -2.5, -2.9, -3.3, -3.6, -3.7, -3.3, -2.3, -0.8, 1.3, 4.0, 7.8, 12.6],
    [-2.4, -2.6, -2.9, -3.3, -3.6, -3.7, -3.4, -2.35, -0.85, 1.2, 3.8, 7.4, 12.0],
    [-2.1, -2.5, -2.9, -3.3, -3.6, -3.7, -3.4, -2.35, -0.85, 1.1, 3.6, 7.1, 11.5],
    [-2.3, -2.6, -3.0, -3.4, -3.7, -3.7, -3.4, -2.35, -0.9, 1.0, 3.4, 6.8, 11.0],
    [-2.0, -2.5, -2.9, -3.3, -3.6, -3.7, -3.4, -2.35, -0.9, 0.95, 3.3, 6.5, 10.5],
    [-2.4, -2.7, -3.0, -3.4, -3.7, -3.8, -3.4, -2.35, -0.95, 0.9, 3.1, 6.2, 10.0],
    [-2.2, -2.6, -2.9, -3.3, -3.6, -3.7, -3.4, -2.35, -1.0, 0.8, 2.9, 5.9, 9.4],
    [-2.3, -2.6, -3.0, -3.4, -3.7, -3.8, -3.5, -2.4, -1.1, 0.5, 2.3, 4.9, 7.8],
    [-2.1, -2.5, -2.9, -3.3, -3.6, -3.8, -3.5, -2.4, -1.1, 0.4, 2.2, 4.7, 7.5],
]

panels = [
    (p1_days, p1_days_core, p1_fit_x, p1_fit_y, p1_boot_y),
    (p2_days, p2_days_core, p2_fit_x, p2_fit_y, p2_boot_y),
    (p3_days, p3_days_core, p3_fit_x, p3_fit_y, p3_boot_y),
    (p4_days, p4_days_core, p4_fit_x, p4_fit_y, p4_boot_y),
]

# ---------------- layout geometry (page pixels; the page body has an 8px margin) ----------------
PAGE_W, PAGE_H, BODY = 1377, 826, 8
W, H = PAGE_W - 2 * BODY, PAGE_H - 2 * BODY
col_px = [(57, 673), (747, 1360)]
row_px = [(38, 364), (452, 778)]
x_ranges = [[-2.1, 44.1], [-2.0, 42.0], [-1.75, 36.75], [-1.5, 31.5]]
y_ranges = [[-55, 55], [-27.5, 27.5], [-27.5, 27.5], [-27.5, 27.5]]
y_minor = [12.5, 5, 5, 5]
ALPHA = 0.11


def flatten(days):
    xs, ys = [], []
    for d, vals in days.items():
        for v in vals:
            xs.append(d)
            ys.append(v)
    return xs, ys


fig = go.Figure()
annotations = []
layout_axes = {}

for i, (days, core, fx, fy, boots) in enumerate(panels):
    r, c = divmod(i, 2)
    ax = "" if i == 0 else str(i + 1)
    xa, ya = "x" + ax, "y" + ax

    for table, weight in ((days, 1), (core, core_weights[i])):
        xs, ys = flatten(table)
        if not xs:
            continue
        a = 1 - (1 - ALPHA) ** weight
        fig.add_trace(go.Scatter(x=xs, y=ys, mode="markers", xaxis=xa, yaxis=ya,
                                 marker=dict(size=6.5, color="rgba(0,0,0,%.3f)" % a, line=dict(width=0)),
                                 hoverinfo="skip", showlegend=False))
    for by in boots:
        fig.add_trace(go.Scatter(x=fx, y=by, mode="lines", xaxis=xa, yaxis=ya,
                                 line=dict(color="#bfbfbf", width=1.0, shape="spline"),
                                 hoverinfo="skip", showlegend=False))
    fig.add_trace(go.Scatter(x=fx, y=fy, mode="lines", xaxis=xa, yaxis=ya,
                             line=dict(color="black", width=1.6, shape="spline"),
                             hoverinfo="skip", showlegend=False))

    x0, x1 = col_px[c]
    y0, y1 = row_px[r]
    xdom = [(x0 - BODY) / W, (x1 - BODY) / W]
    ydom = [1 - (y1 - BODY) / H, 1 - (y0 - BODY) / H]
    tick_font = dict(family=FONT, size=12, color="#7f7f7f")
    layout_axes["xaxis" + ax] = dict(
        domain=xdom, anchor=ya, range=x_ranges[i], showline=False, zeroline=False,
        tickmode="array", tickvals=x_tick_vals[i], ticktext=[str(v) for v in x_tick_vals[i]],
        ticks="outside", ticklen=4, tickwidth=1, tickcolor="#7f7f7f", tickfont=tick_font,
        showgrid=True, gridcolor="white", gridwidth=1.3,
        minor=dict(dtick=5, tick0=0, showgrid=True, gridcolor="#f2f2f2", gridwidth=0.6, ticks=""),
        fixedrange=True)
    layout_axes["yaxis" + ax] = dict(
        domain=ydom, anchor=xa, range=y_ranges[i], showline=False, zeroline=False,
        tickmode="array", tickvals=y_tick_vals[i], ticktext=[str(v) for v in y_tick_vals[i]],
        ticks="outside", ticklen=4, tickwidth=1, tickcolor="#7f7f7f", tickfont=tick_font,
        showgrid=True, gridcolor="white", gridwidth=1.3,
        minor=dict(dtick=y_minor[i], tick0=0, showgrid=True, gridcolor="#f2f2f2", gridwidth=0.6, ticks=""),
        fixedrange=True)

    xc = (xdom[0] + xdom[1]) / 2
    yc = (ydom[0] + ydom[1]) / 2
    annotations.append(dict(text=panel_titles[i], x=xc, y=ydom[1], xref="paper", yref="paper",
                            xanchor="center", yanchor="middle", yshift=20, showarrow=False,
                            font=dict(family=FONT, size=19.5, color="black")))
    annotations.append(dict(text=x_titles[i], x=xc, y=ydom[0], xref="paper", yref="paper",
                            xanchor="center", yanchor="middle", yshift=-31, showarrow=False,
                            font=dict(family=FONT, size=16, color="black")))
    annotations.append(dict(text=y_title, x=xdom[0], y=yc, xref="paper", yref="paper",
                            xanchor="center", yanchor="middle", xshift=-38, textangle=-90,
                            showarrow=False, font=dict(family=FONT, size=16, color="black")))

fig.update_layout(
    width=W, height=H, margin=dict(l=0, r=0, t=0, b=0),
    paper_bgcolor="white", plot_bgcolor="#e5e5e5",
    showlegend=False, annotations=annotations, font=dict(family=FONT),
    **layout_axes)

fig.write_html("out.html")
